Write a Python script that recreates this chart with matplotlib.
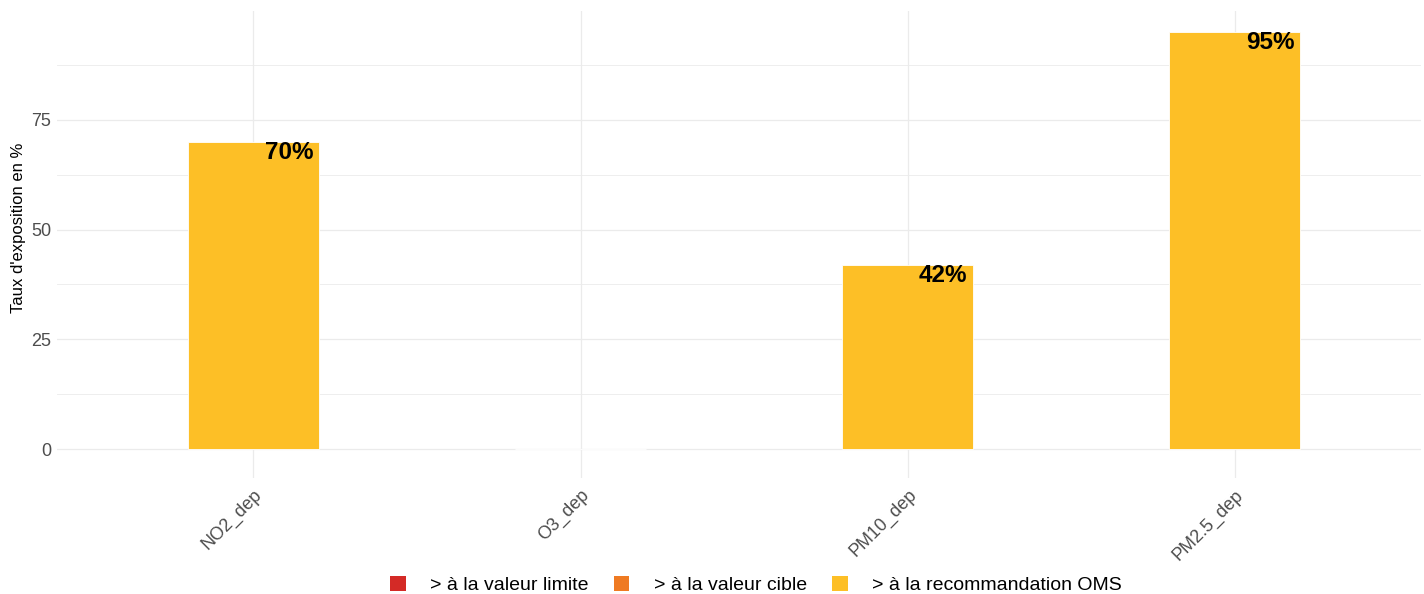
import matplotlib
matplotlib.use("Agg")
import matplotlib.pyplot as plt
from matplotlib.patches import Patch
from matplotlib.ticker import MultipleLocator

plt.rcParams['font.family'] = ['Liberation Sans', 'DejaVu Sans']

categories = ["NO2_dep", "O3_dep", "PM10_dep", "PM2.5_dep"]
values = [70, 0, 42, 95]
labels = ["70%", None, "42%", "95%"]
legend_labels = ["> à la valeur limite", "> à la valeur cible", "> à la recommandation OMS"]
legend_colors = ["#d42a26", "#ef7a22", "#fdbf26"]
bar_color = "#fdbf26"

W, H = 1424, 594
fig = plt.figure(figsize=(W / 100, H / 100), dpi=100)
left, right, top, bottom = 57, 1421, 11, 478
ax = fig.add_axes([left / W, 1 - bottom / H, (right - left) / W, (bottom - top) / H])

x = list(range(1, len(categories) + 1))
ax.bar(x, values, width=0.4, color=bar_color, edgecolor="white", linewidth=0.6, zorder=2)
for xi, v, lab in zip(x, values, labels):
    if lab:
        ax.annotate(lab, (xi + 0.2, v), xytext=(-4, 0.5), textcoords="offset points",
                    ha="right", va="top", fontsize=17.5, fontweight="bold", color="black", zorder=3)

ax.set_xlim(0.4, 1 + (right - 254) / 327)
ax.set_ylim(-6.6, 99.8)
ax.yaxis.set_major_locator(MultipleLocator(25))
ax.yaxis.set_minor_locator(MultipleLocator(12.5))
ax.set_xticks(x)
ax.set_xticklabels(categories, rotation=45, ha="right", rotation_mode="anchor")
ax.tick_params(axis="both", which="both", length=0, labelsize=13, labelcolor="#4d4d4d")
ax.tick_params(axis="y", pad=4)
ax.tick_params(axis="x", pad=6)
ax.grid(True, which="major", color="#ebebeb", linewidth=0.9, zorder=0)
ax.grid(True, which="minor", axis="y", color="#ebebeb", linewidth=0.6, zorder=0)
ax.set_axisbelow(True)
for s in ax.spines.values():
    s.set_visible(False)

fig.text(19 / W, 1 - 228 / H, "Taux d'exposition en %", rotation=90, ha="center", va="center",
         fontsize=12, color="black")

handles = [Patch(facecolor=c, edgecolor="none") for c in legend_colors]
fig.legend(handles, legend_labels, loc="center", bbox_to_anchor=(756 / W, 9 / H), ncol=3,
           frameon=False, fontsize=14, handlelength=0.8, handleheight=0.8,
           handletextpad=1.25, columnspacing=1.3)

fig.savefig("out.png", dpi=100)
